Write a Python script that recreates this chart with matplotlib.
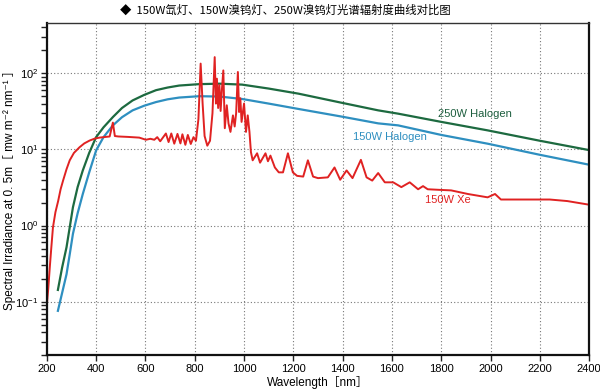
import matplotlib
matplotlib.use('Agg')
import matplotlib.pyplot as plt
from matplotlib.ticker import LogLocator, NullFormatter, MultipleLocator

plt.rcParams['font.family'] = ['Liberation Sans', 'DejaVu Sans', 'Noto Sans CJK SC']

# 150W Xe lamp
xe_nm = [200, 206, 212, 218, 225, 235, 246, 256, 266, 280, 293, 310, 333, 352, 374, 395,
         414, 455, 468, 476, 490, 530, 575,
         602, 620, 636, 648, 660, 683, 694, 705, 717, 730, 742, 750, 762, 772, 784,
         795, 805, 815, 824, 832, 840, 851, 862, 872, 881, 886, 890, 895, 900, 905,
         910, 916, 922, 930, 937, 945, 955, 962, 968, 975, 980, 985, 990, 1000, 1008,
         1015, 1022, 1028, 1035, 1053, 1065, 1087, 1097, 1107, 1125, 1141, 1158, 1178,
         1198, 1215, 1240, 1259, 1280, 1300, 1340, 1367, 1390, 1416, 1440, 1474, 1497,
         1520, 1544, 1571, 1605, 1638, 1672, 1706, 1726, 1745, 1790, 1840, 1908, 1988,
         2018, 2042, 2150, 2240, 2311, 2400]
xe_val = [0.09, 0.15, 0.28, 0.5, 0.95, 1.5, 2.1, 3.0, 3.9, 5.5, 7.2, 9.0, 10.7, 12.0, 13.1, 13.9,
          14.3, 14.8, 22.5, 15, 14.8, 14.6, 14.3,
          13.4, 13.8, 13.4, 14.5, 12.8, 16.2, 12.5, 16.2, 11.9, 16.0, 12.0, 15.8, 11.5, 15.5, 11.8,
          14.5, 13, 25, 134, 40, 15, 11.2, 13, 30, 163, 40, 85, 35, 70, 32,
          60, 109, 19, 38, 22, 17, 28, 20, 30, 104, 31, 47, 23, 40, 17,
          28, 17, 9.2, 7.2, 8.9, 6.7, 8.9, 7.0, 8.3, 5.8, 5.0, 5.0, 8.9,
          5.0, 4.5, 4.4, 7.2, 4.4, 4.2, 4.3, 5.8, 4.0, 5.3, 4.2, 7.3, 4.3,
          3.9, 4.9, 3.7, 3.7, 3.2, 3.7, 3.0, 3.3, 3.0, 2.95, 2.9, 2.6, 2.35,
          2.6, 2.2, 2.2, 2.2, 2.1, 1.88]

# 250W halogen
h250_nm = [245, 262, 280, 293, 306, 325, 346, 372, 400, 430, 468, 505, 548, 595, 643, 690,
           737, 818, 900, 992, 1100, 1221, 1396, 1544, 1625, 1800, 1988, 2200, 2400]
h250_val = [0.143, 0.28, 0.52, 0.95, 1.74, 3.2, 5.3, 9.0, 14.5, 19.5, 26.6, 35, 44, 52, 60, 65,
            69, 72, 73, 71, 63, 54, 41, 32.6, 29.5, 23, 17.8, 13, 9.8]

# 150W halogen
h150_nm = [245, 262, 280, 293, 306, 325, 346, 372, 400, 430, 468, 505, 548, 595, 643, 690,
           737, 818, 900, 992, 1100, 1221, 1396, 1544, 1625, 1800, 1988, 2200, 2400]
h150_val = [0.076, 0.13, 0.23, 0.42, 0.78, 1.45, 2.6, 5.0, 9.7, 14.5, 20.7, 26.5, 32.6, 37.5, 41.9, 45.5,
            48, 50, 49.5, 46, 40, 34, 27, 22, 20.7, 15.5, 11.9, 8.5, 6.3]

fig = plt.figure(figsize=(6, 3.89), dpi=100)
ax = fig.add_axes([0.078, 0.087, 0.904, 0.854])

ax.plot(h250_nm, h250_val, color='#1d6a40', lw=1.6)
ax.plot(h150_nm, h150_val, color='#2e8fc0', lw=1.6)
ax.plot(xe_nm, xe_val, color='#e02222', lw=1.4)

ax.set_yscale('log')
ax.set_xlim(200, 2400)
ax.set_ylim(0.0199, 458)
ax.xaxis.set_major_locator(MultipleLocator(200))
ax.yaxis.set_major_locator(LogLocator(base=10, numticks=10))
ax.yaxis.set_minor_locator(LogLocator(base=10, subs=range(2, 10), numticks=10))
ax.yaxis.set_minor_formatter(NullFormatter())

ax.grid(True, which='major', color='#777777', linestyle=(0, (1, 2)), lw=0.8)
ax.tick_params(which='both', direction='out', labelsize=8, width=1, color='#222222')
ax.tick_params(which='major', length=4.5)
ax.tick_params(which='minor', length=4)
ax.tick_params(axis='x', pad=2)
ax.tick_params(axis='y', pad=1.5)
for side in ['left', 'bottom', 'right']:
    ax.spines[side].set_linewidth(1.6)
    ax.spines[side].set_color('#111111')
ax.spines['top'].set_linewidth(1.0)
ax.spines['top'].set_color('#333333')

ax.text(1936, 29.5, '250W Halogen', color='#1d5e3e', fontsize=8, ha='center', va='center')
ax.text(1593, 14.4, '150W Halogen', color='#2e8fc0', fontsize=8, ha='center', va='center')
ax.text(1827, 2.14, '150W Xe', color='#e02222', fontsize=8, ha='center', va='center')

ax.set_xlabel('Wavelength［nm］', fontsize=8.5, labelpad=1)
fig.text(0.016, 0.52, 'Spectral Irradiance at 0. 5m［ mw m⁻² nm⁻¹ ］', fontsize=8.5,
         rotation=90, ha='center', va='center')

fig.text(0.475, 0.974, '◆  150W氙灯、150W溴钨灯、250W溴钨灯光谱辐射度曲线对比图',
         fontsize=8.2, ha='center', va='center',
         family=['Noto Sans CJK SC', 'DejaVu Sans'])

fig.savefig('out.png', dpi=100)
